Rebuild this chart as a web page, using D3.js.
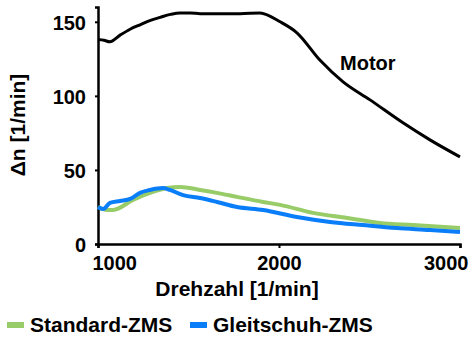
<!DOCTYPE html>
<html>
<head>
<meta charset="utf-8">
<script src="https://d3js.org/d3.v7.min.js"></script>
<style>
  body { margin: 0; background: #fff; }
  text { font-family: "Liberation Sans", Arial, sans-serif; font-weight: bold; }
</style>
</head>
<body>
<script>
// Drehzahlschwankung: Motor vs. ZMS-Varianten

const motorRpm = [1000, 1033, 1066, 1122, 1177, 1232, 1290, 1343, 1400, 1453, 1510, 1564, 1680, 1785, 1895, 2006, 2099, 2227, 2354, 2503, 2685, 2834, 3000];
const motorVal = [138, 137.5, 136.5, 141, 145, 148, 151, 153, 155, 156, 156, 155.5, 155.5, 155.5, 156, 150, 142.6, 124, 109.5, 97.3, 81.8, 70.3, 58.8];

const stdRpm = [1000, 1050, 1083, 1193, 1287, 1381, 1453, 1564, 1657, 1768, 1912, 2006, 2188, 2376, 2558, 2740, 3000];
const stdVal = [25, 23, 23, 29.7, 34.5, 37.8, 38.5, 36.5, 34.5, 31.8, 28.4, 26.4, 21, 17.6, 14.2, 12.8, 10.8];

const glsRpm = [1000, 1028, 1066, 1122, 1177, 1232, 1287, 1359, 1398, 1470, 1564, 1657, 1768, 1912, 2099, 2282, 2464, 2652, 2834, 3000];
const glsVal = [25, 23.6, 27.7, 29, 30.4, 34.5, 36.5, 37.8, 36.5, 33, 31, 28.4, 25, 23, 18.2, 14.9, 12.8, 10.8, 9.5, 8.1];

const xTicks = [1000, 2000, 3000];
const yTicks = [0, 50, 100, 150];

const width = 470, height = 338;
const margin = { top: 7, right: 10, bottom: 94, left: 98 };

const svg = d3.select("body").append("svg")
  .attr("width", width)
  .attr("height", height);

const x = d3.scaleLinear().domain([1000, 3000]).range([margin.left, 460]);
const y = d3.scaleLinear().domain([0, 160]).range([244, margin.top]);

// axes
const xAxis = svg.append("g")
  .attr("transform", `translate(0,${y(0)})`)
  .call(d3.axisBottom(x).tickValues(xTicks).tickSize(4).tickPadding(6).tickFormat(d3.format("d")));
const yAxis = svg.append("g")
  .attr("transform", `translate(${x(1000)},0)`)
  .call(d3.axisLeft(y).tickValues(yTicks).tickSize(3).tickPadding(9));

[xAxis, yAxis].forEach(g => {
  g.select(".domain").attr("stroke", "#000").attr("stroke-width", 2.5);
  g.selectAll(".tick line").attr("stroke", "#000").attr("stroke-width", 2);
  g.selectAll(".tick text")
    .attr("fill", "#000")
    .style("font-size", "20px")
    .style("font-family", "'Liberation Sans', Arial, sans-serif")
    .style("font-weight", "bold");
});
yAxis.selectAll(".tick text").attr("dy", "0.36em");
// first and last x labels kept inside the plot edges, as in the original
xAxis.selectAll(".tick text")
  .attr("y", 26).attr("dy", 0)
  .attr("text-anchor", (d, i) => i === 0 ? "start" : i === xTicks.length - 1 ? "end" : "middle")
  .attr("dx", (d, i) => i === 0 ? -6 : i === xTicks.length - 1 ? 8 : 0);

// lines
const line = d3.line().curve(d3.curveMonotoneX);
const series = [
  { rpm: stdRpm, val: stdVal, color: "#98cc68", w: 4 },
  { rpm: glsRpm, val: glsVal, color: "#0a7ef8", w: 4 },
  { rpm: motorRpm, val: motorVal, color: "#000", w: 3 }
];
series.forEach(s => {
  svg.append("path")
    .attr("d", line(s.rpm.map((r, i) => [x(r), y(s.val[i])])))
    .attr("fill", "none")
    .attr("stroke", s.color)
    .attr("stroke-width", s.w)
    .attr("stroke-linejoin", "round");
});

svg.append("text")
  .attr("x", 340).attr("y", 70)
  .style("font-size", "20px")
  .text("Motor");

// axis titles
svg.append("text")
  .attr("x", 237).attr("y", 296)
  .attr("text-anchor", "middle")
  .style("font-size", "21px")
  .text("Drehzahl [1/min]");

svg.append("text")
  .attr("transform", "translate(25,125) rotate(-90)")
  .attr("text-anchor", "middle")
  .style("font-size", "21px")
  .text("Δn [1/min]");

// legend
const legend = [
  { name: "Standard-ZMS", color: "#98cc68", x: 7 },
  { name: "Gleitschuh-ZMS", color: "#0a7ef8", x: 190 }
];
legend.forEach(l => {
  svg.append("rect")
    .attr("x", l.x).attr("y", 322)
    .attr("width", 17).attr("height", 6)
    .attr("fill", l.color);
  svg.append("text")
    .attr("x", l.x + 23).attr("y", 332)
    .style("font-size", "21px")
    .text(l.name);
});
</script>
</body>
</html>
